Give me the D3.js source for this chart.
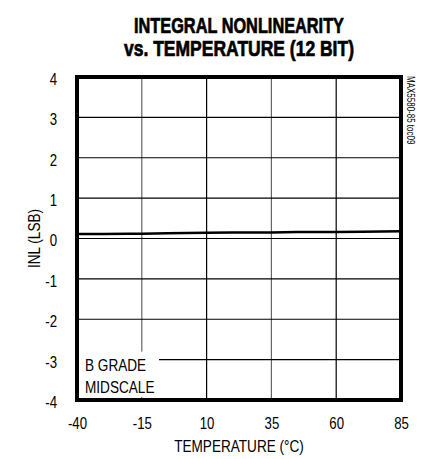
<!DOCTYPE html>
<html>
<head>
<meta charset="utf-8">
<script src="https://cdn.jsdelivr.net/npm/d3@7"></script>
<style>
  body { margin: 0; background: #fff; }
  svg text { font-family: "Liberation Sans", Arial, sans-serif; }
</style>
</head>
<body>
<div id="chart"></div>
<script>
// data
const tempC = [-40, -30, -20, -15, -5, 10, 20, 35, 45, 60, 70, 85];
const inlLsb = [0.11, 0.11, 0.12, 0.12, 0.13, 0.14, 0.15, 0.15, 0.16, 0.16, 0.17, 0.18];
const xTicks = [-40, -15, 10, 35, 60, 85];
const yTicks = [-4, -3, -2, -1, 0, 1, 2, 3, 4];

const W = 427, H = 459;
const margin = { top: 77, right: 26, bottom: 59, left: 77 };
const width = W - margin.left - margin.right,
      height = H - margin.top - margin.bottom;
const sx = 0.8; // fake a condensed face

const svg = d3.select("#chart").append("svg")
  .attr("width", W).attr("height", H);

// title
const cx = margin.left + width / 2;
[["INTEGRAL NONLINEARITY", 33, 210], ["vs. TEMPERATURE (12 BIT)", 56, 230]].forEach(([t, yy, len]) => {
  svg.append("text")
    .attr("x", cx - len / 2).attr("y", yy)
    .attr("textLength", len)
    .attr("lengthAdjust", "spacingAndGlyphs")
    .attr("stroke", "#000")
    .attr("stroke-width", 0.7)
    .style("font-weight", "bold")
    .style("font-size", "22px")
    .text(t);
});

const g = svg.append("g")
  .attr("transform", `translate(${margin.left},${margin.top})`);

const x = d3.scaleLinear().domain([-40, 85]).range([0, width]);
const y = d3.scaleLinear().domain([-4, 4]).range([height, 0]);

// grid
g.selectAll("line.vgrid")
  .data(xTicks.slice(1, -1))
  .enter().append("line")
  .attr("class", "vgrid")
  .attr("x1", d => x(d)).attr("x2", d => x(d))
  .attr("y1", 0).attr("y2", height)
  .attr("stroke", (d, i) => i % 2 ? "#000" : "#666")
  .attr("stroke-width", 1.2);

g.selectAll("line.hgrid")
  .data(yTicks.slice(1, -1))
  .enter().append("line")
  .attr("class", "hgrid")
  .attr("x1", 0).attr("x2", width)
  .attr("y1", d => y(d)).attr("y2", d => y(d))
  .attr("stroke", "#000")
  .attr("stroke-width", 1.2);

// label box blanking the grid
g.append("rect")
  .attr("x", 2).attr("y", y(-3) - 8)
  .attr("width", 80).attr("height", height - y(-3) + 5)
  .attr("fill", "#fff");

["B GRADE", "MIDSCALE"].forEach((t, i) => {
  g.append("text")
    .attr("transform", `translate(8,${y(-3) + 11 + i * 22}) scale(${sx},1)`)
    .style("font-size", "17px")
    .text(t);
});

// data line
const line = d3.line()
  .x((d, i) => x(tempC[i]))
  .y(d => y(d));

g.append("path")
  .datum(inlLsb)
  .attr("fill", "none")
  .attr("stroke", "#000")
  .attr("stroke-width", 2.5)
  .attr("d", line);

// frame
g.append("rect")
  .attr("width", width).attr("height", height)
  .attr("fill", "none")
  .attr("stroke", "#000")
  .attr("stroke-width", 4);

// axes (labels only)
const xAxis = g.append("g")
  .attr("transform", `translate(0,${height})`)
  .call(d3.axisBottom(x).tickValues(xTicks).tickSize(0).tickPadding(17).tickFormat(d => String(d)));
xAxis.select(".domain").remove();
xAxis.selectAll("text")
  .attr("fill", "#000")
  .attr("transform", `scale(${sx},1)`)
  .style("font-size", "16.5px")
  .style("font-family", "'Liberation Sans', sans-serif");

const yAxis = g.append("g")
  .call(d3.axisLeft(y).tickValues(yTicks).tickSize(0).tickPadding(25).tickFormat(d => String(d)));
yAxis.select(".domain").remove();
yAxis.selectAll("text")
  .attr("fill", "#000")
  .attr("transform", `scale(${sx},1)`)
  .attr("dy", "0.45em")
  .style("font-size", "16.5px")
  .style("font-family", "'Liberation Sans', sans-serif");

// axis titles
svg.append("text")
  .attr("transform", `translate(${cx},452) scale(${sx},1)`)
  .attr("text-anchor", "middle")
  .style("font-size", "17px")
  .text("TEMPERATURE (°C)");

svg.append("text")
  .attr("transform", `translate(40,${margin.top + height / 2}) rotate(-90) scale(${sx},1)`)
  .attr("text-anchor", "middle")
  .style("font-size", "17px")
  .text("INL (LSB)");

// part code
svg.append("text")
  .attr("transform", `translate(407,${margin.top - 1}) rotate(90) scale(${sx},1)`)
  .style("font-size", "10px")
  .text("MAX5580-85 toc09");
</script>
</body>
</html>
